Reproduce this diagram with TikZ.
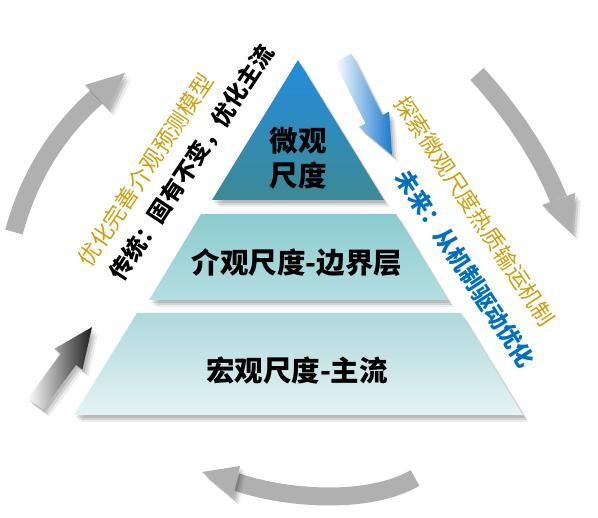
\documentclass[tikz,border=0pt]{standalone}
\usepackage{fontspec}
\newfontfamily\cjk{Noto Sans CJK SC}
\usetikzlibrary{shadows}
\definecolor{pyrblue}{RGB}{34,140,222}
\definecolor{pyrteal}{RGB}{60,138,148}
\definecolor{midtop}{RGB}{138,203,207}
\definecolor{midbot}{RGB}{181,223,225}
\definecolor{bottop}{RGB}{174,216,220}
\definecolor{botbot}{RGB}{229,243,244}
\definecolor{arrowgray}{RGB}{176,176,176}
\definecolor{goldtext}{RGB}{207,160,12}
\definecolor{futureblue}{RGB}{0,112,192}
\definecolor{arrowblue}{RGB}{24,122,206}
\tikzset{
  softshadow/.style={
    drop shadow={shadow xshift=2pt,shadow yshift=-3pt,opacity=.12,fill=black},
    drop shadow={shadow xshift=4pt,shadow yshift=-5pt,opacity=.10,fill=black},
    drop shadow={shadow xshift=6pt,shadow yshift=-7pt,opacity=.07,fill=black}},
  shaft/.style={draw=arrowgray,line width=18pt,
    preaction={draw=black,opacity=.10,transform canvas={shift={(3pt,-4pt)}}},
    preaction={draw=black,opacity=.07,transform canvas={shift={(5pt,-6pt)}}}},
  arrowhead/.style={fill=arrowgray,softshadow},
  level/.style={font=\cjk\bfseries\fontsize{28.5}{35}\selectfont,align=center,inner sep=0pt},
  sidetext/.style={font=\cjk\bfseries\fontsize{23}{23}\selectfont,inner sep=0pt},
  goaltext/.style={font=\cjk\fontsize{22.5}{23}\selectfont,text=goldtext,inner sep=0pt}
}
\begin{document}
\begin{tikzpicture}[x=1pt,y=-1pt]
  \fill[white] (0,0) rectangle (598,518);
  \useasboundingbox (0,0) rectangle (598,518);
  % Points
  \coordinate (apex) at (298,60);
  \coordinate (tl) at (212,200);
  \coordinate (tr) at (384,200);
  \coordinate (ml) at (201,214);
  \coordinate (mr) at (396,214);
  \coordinate (mbl) at (149,300);
  \coordinate (mbr) at (448,300);
  \coordinate (bl) at (137,313);
  \coordinate (br) at (461,313);
  \coordinate (bbl) at (74,415);
  \coordinate (bbr) at (523,415);
  % Pyramid
  \shade[top color=bottop,bottom color=botbot,softshadow] (bl) -- (br) -- (bbr) -- (bbl) -- cycle;
  \shade[top color=midtop,bottom color=midbot,softshadow] (ml) -- (mr) -- (mbr) -- (mbl) -- cycle;
  \shade[top color=pyrblue,bottom color=pyrteal,softshadow] (apex) -- (tr) -- (tl) -- cycle;
  % Cycle arrows
  \coordinate (lefttail) at (14,232);
  \coordinate (leftbase) at (96.5,97);
  \draw[shaft] (lefttail) .. controls (30,172) and (62,127) .. (leftbase);
  \fill[arrowhead] (85,85) -- (125,73) -- (108,109) -- cycle;
  \coordinate (righttail) at (477,74);
  \coordinate (rightbase) at (558.5,199);
  \draw[shaft] (righttail) .. controls (510,110) and (540,153) .. (rightbase);
  \fill[arrowhead] (542,205) -- (575,193) -- (572,233) -- cycle;
  \coordinate (bottail) at (415,478);
  \coordinate (botbase) at (236.5,482);
  \draw[shaft] (bottail) .. controls (370,504) and (290,500) .. (botbase);
  \fill[arrowhead] (240,466) -- (202,472) -- (233,498) -- cycle;
  % Shaded arrows
  \begin{scope}[shift={(35.5,404)},rotate=53.7]
    \shade[left color=white,right color=black!88,softshadow]
      (0,-9.5) -- (55.5,-9.5) -- (55.5,-17.5) -- (95.5,0) -- (55.5,17.5) -- (55.5,9.5) -- (0,9.5) -- cycle;
  \end{scope}
  \begin{scope}[shift={(343,58)},rotate=-63.2]
    \shade[left color=white,right color=arrowblue,softshadow]
      (0,-9.5) -- (68.7,-9.5) -- (68.7,-17) -- (108.7,0) -- (68.7,17) -- (68.7,9.5) -- (0,9.5) -- cycle;
  \end{scope}
  % Labels
  \node[level] (micro) at (298,158) {微观\\尺度};
  \node[level] (meso) at (297,263) {介观尺度-边界层};
  \node[level] (macro) at (297,371) {宏观尺度-主流};
  \node[sidetext,rotate=56.5] (pastway) at (192,163) {传统：固有不变，优化主流};
  \node[goaltext,rotate=56.5] (pastgoal) at (145.5,170) {优化完善介观预测模型};
  \node[sidetext,text=futureblue,rotate=-56.5] (futureway) at (465.5,269) {未来：从机制驱动优化};
  \node[goaltext,rotate=-56.5] (futuregoal) at (475,211) {探索微观尺度热质输运机制};
\end{tikzpicture}
\end{document}
